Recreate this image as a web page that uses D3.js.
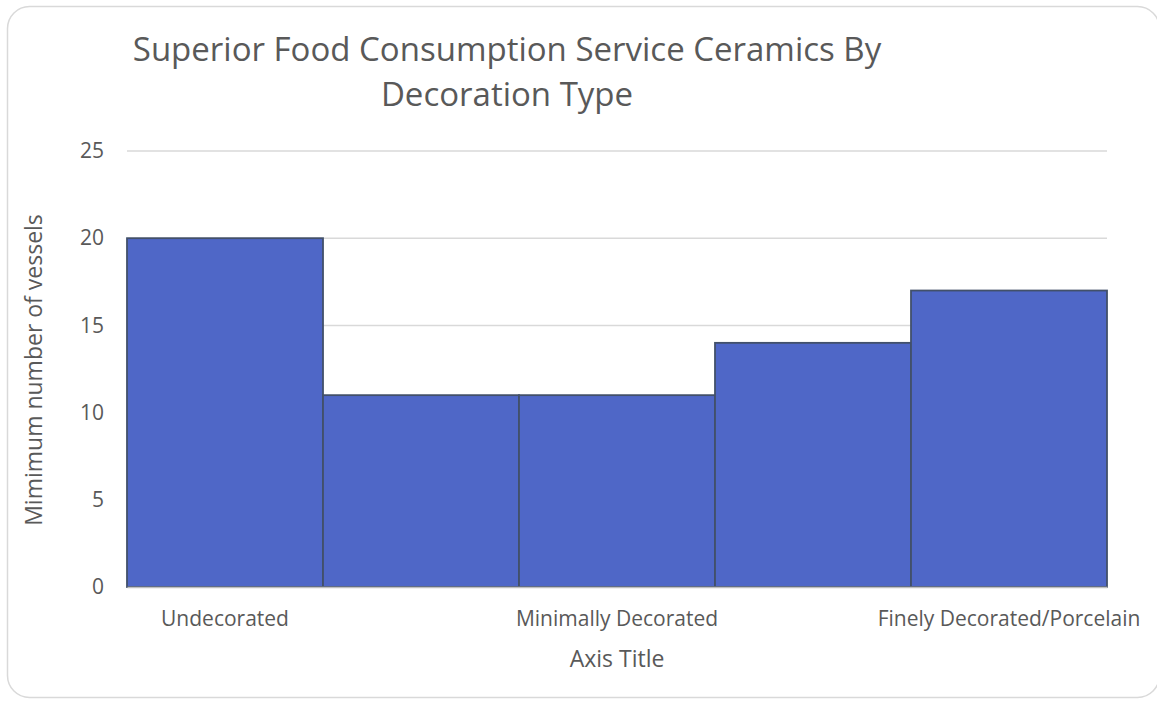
<!DOCTYPE html>
<html>
<head>
<meta charset="utf-8">
<script src="https://cdn.jsdelivr.net/npm/d3@7/dist/d3.min.js"></script>
<style>
  html, body { margin: 0; padding: 0; background: #fff; }
  svg { display: block; font-family: "Open Sans", "Noto Sans", sans-serif; }
</style>
</head>
<body>
<svg id="chart" width="1157" height="702"></svg>
<script>
// Vessel counts per decoration class
const categories = ["Undecorated", "", "Minimally Decorated", "", "Finely Decorated/Porcelain"];
const values = [20, 11, 11, 14, 17];
const yTicks = [0, 5, 10, 15, 20, 25];
const titleLines = ["Superior Food Consumption Service Ceramics By", "Decoration Type"];
const yAxisTitle = "Mimimum number of vessels";
const xAxisTitle = "Axis Title";

const svg = d3.select("#chart");
const plot = { left: 127, right: 1107, top: 151, bottom: 587 };
const textColor = "#595959";

// Chart frame
svg.append("rect")
  .attr("x", 7.5).attr("y", 6.5)
  .attr("width", 1152).attr("height", 691)
  .attr("rx", 22).attr("ry", 22)
  .attr("fill", "#fff")
  .attr("stroke", "#D9D9D9").attr("stroke-width", 1.5);

const x = d3.scaleBand()
  .domain(d3.range(categories.length))
  .range([plot.left, plot.right])
  .padding(0);

const y = d3.scaleLinear()
  .domain([0, 25])
  .range([plot.bottom, plot.top]);

// Horizontal gridlines
svg.append("g")
  .selectAll("line")
  .data(yTicks.filter(t => t > 0))
  .join("line")
  .attr("x1", plot.left).attr("x2", plot.right)
  .attr("y1", d => y(d)).attr("y2", d => y(d))
  .attr("stroke", "#D9D9D9").attr("stroke-width", 1.5);

// Y tick labels
const yAxis = d3.axisLeft(y).tickValues(yTicks).tickSize(0).tickPadding(0);
const gy = svg.append("g")
  .attr("transform", `translate(${plot.left - 23},0)`)
  .call(yAxis);
gy.select(".domain").remove();
gy.selectAll("text")
  .attr("font-size", 21)
  .attr("fill", textColor)
  .attr("font-family", "'Open Sans', 'Noto Sans', sans-serif");

// Bars
svg.append("g")
  .selectAll("rect")
  .data(values)
  .join("rect")
  .attr("x", (d, i) => x(i))
  .attr("y", d => y(d))
  .attr("width", x.bandwidth())
  .attr("height", d => y(0) - y(d))
  .attr("fill", "#4F67C7")
  .attr("stroke", "#42506A")
  .attr("stroke-width", 1.8);

// Category axis
const xAxis = d3.axisBottom(x)
  .tickFormat(i => categories[i])
  .tickSize(0).tickPadding(0);
const gx = svg.append("g")
  .attr("transform", `translate(0,${plot.bottom})`)
  .call(xAxis);
gx.select(".domain")
  .attr("stroke", "#BFBFBF").attr("stroke-width", 1.5);
gx.selectAll("text")
  .attr("dy", null)
  .attr("y", 39)
  .attr("font-size", 21)
  .attr("fill", textColor)
  .attr("font-family", "'Open Sans', 'Noto Sans', sans-serif");

// Title
const title = svg.append("text")
  .attr("text-anchor", "middle")
  .attr("font-size", 33)
  .attr("fill", textColor);
titleLines.forEach((t, i) => {
  title.append("tspan")
    .attr("x", 507)
    .attr("y", 61 + i * 45)
    .text(t);
});

// Axis titles
svg.append("text")
  .attr("transform", `translate(42,${(plot.top + plot.bottom) / 2 + 1}) rotate(-90)`)
  .attr("text-anchor", "middle")
  .attr("font-size", 23)
  .attr("fill", textColor)
  .text(yAxisTitle);

svg.append("text")
  .attr("x", (plot.left + plot.right) / 2)
  .attr("y", 667)
  .attr("text-anchor", "middle")
  .attr("font-size", 23)
  .attr("fill", textColor)
  .text(xAxisTitle);
</script>
</body>
</html>
